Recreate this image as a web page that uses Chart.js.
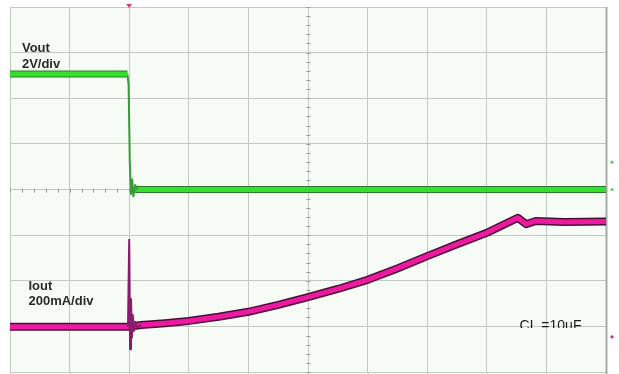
<!DOCTYPE html>
<html>
<head>
<meta charset="utf-8">
<script src="https://cdn.jsdelivr.net/npm/chart.js@4.4.1/dist/chart.umd.min.js"></script>
<style>
  html, body { margin: 0; padding: 0; background: #ffffff; }
  #wrap { width: 619px; height: 374px; }
</style>
</head>
<body>
<div id="wrap"><canvas id="scope" width="619" height="374"></canvas></div>
<script>
// Screen divisions: 10 horizontal, 8 vertical
const xDivisions = [0, 10];
const yDivisions = [0, 8];

// Vout trace (levels in divisions)
const voutHighTime  = [0, 1.97];
const voutHighLevel = [6.53, 6.53];
const voutEdgeTime  = [1.97, 1.99, 2.01, 2.03, 2.05, 2.07, 2.10, 2.14];
const voutEdgeLevel = [6.53, 6.30, 4.60, 3.90, 4.22, 3.85, 4.10, 4.00];
const voutLowTime   = [2.10, 10];
const voutLowLevel  = [4.00, 4.00];

// Iout trace (levels in divisions)
const ioutTime  = [0, 1.99, 2.2, 2.6, 3.0, 3.5, 4.0, 4.5, 5.0, 5.5, 6.0, 6.5, 7.0, 7.5, 8.0, 8.25, 8.52, 8.66, 8.82, 9.3, 10];
const ioutLevel = [0.99, 0.99, 1.03, 1.07, 1.12, 1.21, 1.32, 1.47, 1.64, 1.82, 2.02, 2.27, 2.54, 2.80, 3.05, 3.21, 3.38, 3.24, 3.31, 3.29, 3.30];
// Iout transient at the switching edge
const spikeTime  = [1.98, 2.00, 2.015, 2.03, 2.045, 2.06, 2.08, 2.10, 2.13, 2.2];
const spikeLevel = [0.99, 2.90, 0.50, 1.60, 0.75, 1.25, 0.90, 1.10, 0.98, 1.03];

// Channel reference markers (divisions)
const markerLevels = [4.6, 4.0, 0.77];
const markerColors = ['#5ccf5c', '#5ccf5c', '#c0308a'];
const triggerTime = 2.0;

// Annotations drawn on the screen
const labels = [
  { text: 'Vout',      t: 0.2,  v: 7.01 },
  { text: '2V/div',    t: 0.2,  v: 6.67 },
  { text: 'Iout',      t: 0.31, v: 1.80 },
  { text: '200mA/div', t: 0.31, v: 1.47 }
];
const loadLabel = { text: 'CL =10uF', t: 8.55, v: 0.92 };

function pts(xs, ys) { return xs.map((x, i) => ({ x: x, y: ys[i] })); }

const GREEN = '#34e02c', GREEN_EDGE = '#2b7a2b';
const MAGENTA = '#ec1aa0', MAGENTA_EDGE = '#4a0f34';

function trace(data, color, width, order) {
  return { data: data, borderColor: color, borderWidth: width, pointRadius: 0,
           tension: 0, fill: false, borderCapStyle: 'butt', borderJoinStyle: 'round', order: order };
}

const screenPlugin = {
  id: 'screen',
  beforeDraw(chart) {
    const { ctx, chartArea: a } = chart;
    ctx.save();
    ctx.fillStyle = '#f6fbf6';
    ctx.fillRect(a.left, a.top, a.right - a.left, chart.height - a.top);
    ctx.restore();
  },
  beforeDatasetsDraw(chart) {
    const { ctx, scales: { x, y } } = chart;
    ctx.save();
    // extend vertical grid to the bottom edge
    ctx.strokeStyle = '#c4c8c4';
    ctx.lineWidth = 1;
    for (let d = 0; d <= 10; d++) {
      const px = Math.round(x.getPixelForValue(d)) + 0.5;
      ctx.beginPath(); ctx.moveTo(px, y.getPixelForValue(0)); ctx.lineTo(px, chart.height); ctx.stroke();
    }
    // right frame edge
    ctx.strokeStyle = '#a8aca8';
    ctx.lineWidth = 2;
    const rx = x.getPixelForValue(10) + 0.5;
    ctx.beginPath(); ctx.moveTo(rx, y.getPixelForValue(8)); ctx.lineTo(rx, chart.height); ctx.stroke();
    // minor ticks on the centre axes
    ctx.strokeStyle = '#9a9e9a';
    ctx.lineWidth = 1;
    const cy = Math.round(y.getPixelForValue(4)) + 0.5;
    for (let d = 0; d <= 10.001; d += 0.2) {
      const px = Math.round(x.getPixelForValue(d)) + 0.5;
      ctx.beginPath(); ctx.moveTo(px, cy - 2); ctx.lineTo(px, cy + 2); ctx.stroke();
    }
    const cx = Math.round(x.getPixelForValue(5)) + 0.5;
    for (let d = 0; d <= 8.001; d += 0.2) {
      const py = Math.round(y.getPixelForValue(d)) + 0.5;
      ctx.beginPath(); ctx.moveTo(cx - 2, py); ctx.lineTo(cx + 2, py); ctx.stroke();
    }
    // load label, its lower edge hidden at the grid line below it
    ctx.font = '14px "Liberation Sans", Arial, sans-serif';
    ctx.fillStyle = '#1a1a1a';
    ctx.textBaseline = 'alphabetic';
    const lx = x.getPixelForValue(loadLabel.t), ly = y.getPixelForValue(loadLabel.v);
    const gridY = y.getPixelForValue(1);
    ctx.beginPath();
    ctx.rect(lx - 2, ly - 20, 90, gridY + 1.5 - (ly - 20));
    ctx.clip();
    ctx.fillText(loadLabel.text, lx, ly);
    ctx.restore();
  },
  afterDatasetsDraw(chart) {
    const { ctx, scales: { x, y } } = chart;
    ctx.save();
    ctx.font = 'bold 13px "Liberation Sans", Arial, sans-serif';
    ctx.fillStyle = '#2a2a2a';
    ctx.textBaseline = 'alphabetic';
    labels.forEach(l => ctx.fillText(l.text, x.getPixelForValue(l.t), y.getPixelForValue(l.v)));
    // channel markers right of the screen
    const mx = x.getPixelForValue(10) + 6;
    markerLevels.forEach((v, i) => {
      ctx.fillStyle = markerColors[i];
      ctx.beginPath(); ctx.arc(mx, y.getPixelForValue(v), 1.6, 0, Math.PI * 2); ctx.fill();
    });
    // trigger position marker
    ctx.fillStyle = '#d04060';
    const tx = x.getPixelForValue(triggerTime), ty = y.getPixelForValue(8);
    ctx.beginPath(); ctx.moveTo(tx - 3, ty - 3); ctx.lineTo(tx + 3, ty - 3); ctx.lineTo(tx, ty + 1); ctx.closePath(); ctx.fill();
    ctx.restore();
  }
};

new Chart(document.getElementById('scope'), {
  type: 'line',
  data: {
    datasets: [
      trace(pts(voutHighTime, voutHighLevel), GREEN, 5, 1),
      trace(pts(voutHighTime, voutHighLevel), GREEN_EDGE, 7, 2),
      trace(pts(voutEdgeTime, voutEdgeLevel), '#3a9a3a', 2, 1),
      trace(pts(voutLowTime, voutLowLevel), GREEN, 5, 1),
      trace(pts(voutLowTime, voutLowLevel), GREEN_EDGE, 7, 2),
      trace(pts(spikeTime, spikeLevel), '#8a1a6a', 2, 0),
      trace(pts(ioutTime, ioutLevel), MAGENTA, 5, 1),
      trace(pts(ioutTime, ioutLevel), MAGENTA_EDGE, 8, 2)
    ]
  },
  options: {
    responsive: false,
    animation: false,
    events: [],
    layout: { padding: { left: 10, top: 7, right: 13, bottom: 2 } },
    plugins: { legend: { display: false }, tooltip: { enabled: false }, title: { display: false } },
    scales: {
      x: {
        type: 'linear', min: xDivisions[0], max: xDivisions[1],
        ticks: { display: false, stepSize: 1 },
        grid: { color: '#c4c8c4', lineWidth: 1, drawTicks: false },
        border: { display: false }
      },
      y: {
        type: 'linear', min: yDivisions[0], max: yDivisions[1],
        ticks: { display: false, stepSize: 1 },
        grid: { color: '#c4c8c4', lineWidth: 1, drawTicks: false },
        border: { display: false }
      }
    }
  },
  plugins: [screenPlugin]
});
</script>
</body>
</html>
